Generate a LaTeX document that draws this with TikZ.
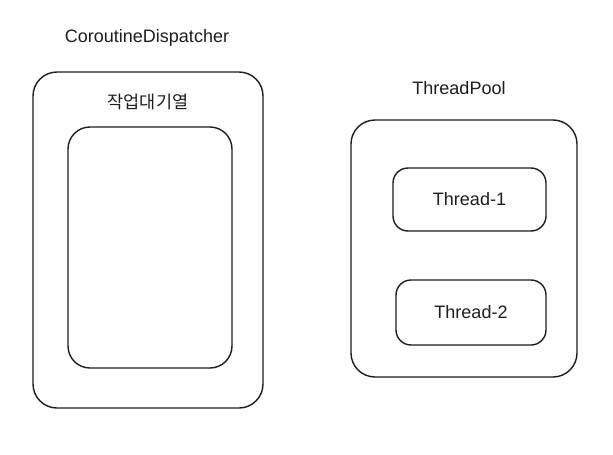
\documentclass[tikz,border=0pt]{standalone}
\usepackage{fontspec}
\setmainfont{Liberation Sans}
\newfontfamily\krfont{Noto Sans CJK KR}
\usetikzlibrary{positioning}
\definecolor{Ink}{HTML}{1E1E1E}

\begin{document}
\begin{tikzpicture}[x=1pt, y=-1pt,
    box/.style={draw=Ink, line width=1.4pt, rounded corners=24pt, inner sep=0pt},
    smallbox/.style={draw=Ink, line width=1.4pt, rounded corners=15pt, inner sep=0pt, font=\fontsize{18}{20}\selectfont, text=Ink},
    caption/.style={font=\fontsize{18}{20}\selectfont, text=Ink}]
    % Canvas
    \fill[white] (0,0) rectangle (613,455);
    \useasboundingbox (0,0) rectangle (613,455);

    % Dispatcher and its queue
    \node[box, minimum width=230pt, minimum height=336pt] (dispatcher) at (148,240) {};
    \node[box, rounded corners=22pt, minimum width=164pt, minimum height=241pt] (queue) at (150,247.5) {};
    \node[caption] (dispatcherlabel) at (147,38) {CoroutineDispatcher};
    \node[caption, font=\krfont\fontsize{17.5}{20}\selectfont] (queuelabel) at (148,102) {작업대기열};

    % Thread pool
    \node[box, minimum width=226pt, minimum height=257pt] (pool) at (464,248.5) {};
    \node[caption] (poollabel) at (459,88) {ThreadPool};

    % Threads
    \node[smallbox, minimum width=153pt, minimum height=63pt] (threadA) at (469.5,199.5) {Thread-1};
    \node[smallbox, minimum width=150pt, minimum height=65pt] (threadB) at (471,312.5) {Thread-2};

\end{tikzpicture}
\end{document}
